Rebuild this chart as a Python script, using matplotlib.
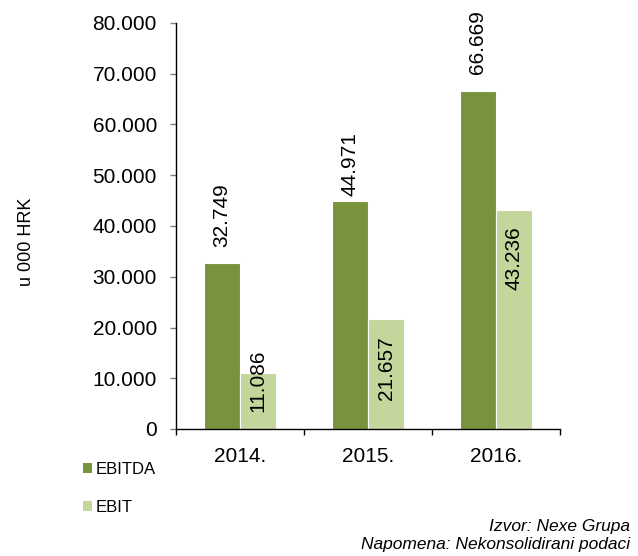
import matplotlib
matplotlib.use("Agg")
import matplotlib.pyplot as plt
from matplotlib.ticker import FuncFormatter, FixedLocator
from matplotlib.patches import Patch
import numpy as np

plt.rcParams['font.family'] = ['Liberation Sans', 'DejaVu Sans']

years = ["2014.", "2015.", "2016."]
ebitda = [32749, 44971, 66669]
ebit = [11086, 21657, 43236]
ebitda_labels = ["32.749", "44.971", "66.669"]
ebit_labels = ["11.086", "21.657", "43.236"]
series_names = ["EBITDA", "EBIT"]

c_dark = "#77933C"
c_light = "#C3D69B"

W, H = 638, 556
fig = plt.figure(figsize=(W / 100, H / 100), dpi=100)
ax = fig.add_axes([176 / W, 1 - 429 / H, (560 - 176) / W, (429 - 23) / H])

x = np.arange(len(years))
bw = 0.285
ax.bar(x - bw / 2, ebitda, width=bw, color=c_dark, edgecolor="white", linewidth=0.8)
ax.bar(x + bw / 2, ebit, width=bw, color=c_light, edgecolor="white", linewidth=0.8)

ax.set_xlim(-0.5, 2.5)
ax.set_ylim(0, 80000)

fs = 15
# EBITDA labels above bars (pixel pads)
ebitda_pad_px = [16, 5, 17]
for xi, v, lab, p in zip(x, ebitda, ebitda_labels, ebitda_pad_px):
    ax.annotate(lab, (xi - bw / 2, v), xytext=(0, p * 0.72), textcoords="offset points",
                rotation=90, ha="center", va="bottom", fontsize=fs)

# EBIT labels inside end
px_per_unit = (429 - 23) / 80000
for xi, v, lab in zip(x, ebit, ebit_labels):
    bar_px = v * px_per_unit
    if bar_px > 17 + 64 + 17:
        ax.annotate(lab, (xi + bw / 2, v), xytext=(0, -17 * 0.72), textcoords="offset points",
                    rotation=90, ha="center", va="top", fontsize=fs)
    else:
        ax.annotate(lab, (xi + bw / 2, 0), xytext=(0, 17 * 0.72), textcoords="offset points",
                    rotation=90, ha="center", va="bottom", fontsize=fs)

# axes styling
for s in ["top", "right"]:
    ax.spines[s].set_visible(False)
ax.spines["left"].set_color("black")
ax.spines["bottom"].set_color("black")
ax.spines["left"].set_linewidth(1.0)
ax.spines["bottom"].set_linewidth(1.0)

ax.set_yticks(np.arange(0, 80001, 10000))
ax.yaxis.set_major_formatter(FuncFormatter(lambda v, p: f"{int(v):,}".replace(",", ".")))
ax.tick_params(axis="y", direction="out", length=4.3, width=1, color="#808080",
               labelsize=fs, pad=9.4)

ax.set_xticks(x)
ax.set_xticklabels(years)
ax.tick_params(axis="x", which="major", length=0, labelsize=fs, pad=13)
ax.xaxis.set_minor_locator(FixedLocator([-0.5, 0.5, 1.5, 2.5]))
ax.tick_params(axis="x", which="minor", direction="out", length=4.3, width=1, color="black")

fig.text(27 / W, 1 - 242 / H, "u 000 HRK", rotation=90, ha="center", va="center", fontsize=13)

handles = [Patch(facecolor=c_dark, edgecolor="none"), Patch(facecolor=c_light, edgecolor="none")]
fig.legend(handles, series_names, loc="upper left", bbox_to_anchor=(83 / W, 1 - 462 / H),
           frameon=False, fontsize=12, handlelength=0.54, handleheight=0.54,
           handletextpad=0.2, labelspacing=1.35, borderpad=0, borderaxespad=0)

fig.text(630 / W, 1 - 526 / H, "Izvor: Nexe Grupa", ha="right", va="center",
         fontsize=12.5, style="italic")
fig.text(630 / W, 1 - 544 / H, "Napomena: Nekonsolidirani podaci", ha="right", va="center",
         fontsize=12.5, style="italic")

fig.savefig("out.png", dpi=100)
